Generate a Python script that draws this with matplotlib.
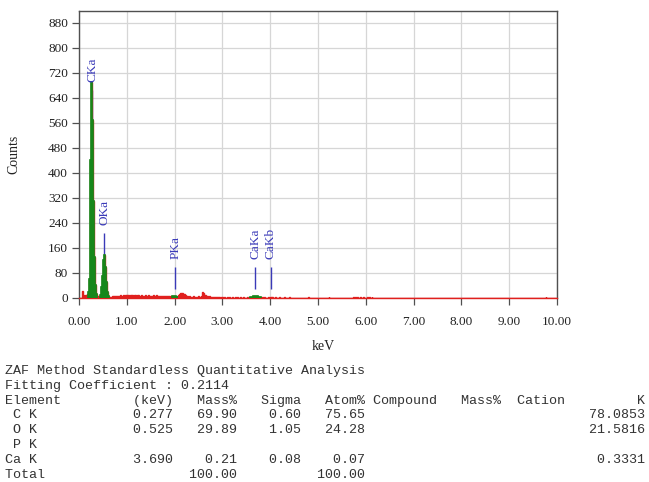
import numpy as np
import matplotlib
matplotlib.use("Agg")
import matplotlib.pyplot as plt

# EDS spectrum counts, 20 eV channels from 0.00 to 10.00 keV
channel_width = 0.02
counts = [
    # 0.00 - 0.48 keV
    0, 0, 0, 22, 9, 6, 8, 10, 12, 20, 60, 300, 440, 690, 570, 310, 130, 40, 12, 6, 5, 6, 10, 35, 70,
    # 0.50 - 0.98 keV
    120, 138, 100, 50, 20, 6, 3, 2, 4, 5, 6, 5, 6, 7, 6, 5, 7, 6, 8, 7, 6, 8, 7, 9, 8,
    # 1.00 - 1.48 keV
    9, 8, 7, 9, 8, 10, 8, 7, 9, 8, 7, 8, 9, 7, 6, 8, 7, 6, 7, 8, 6, 7, 8, 6, 7,
    # 1.50 - 1.98 keV
    6, 7, 8, 6, 7, 6, 8, 7, 6, 5, 7, 6, 5, 6, 7, 5, 6, 5, 6, 5, 4, 5, 6, 5, 5,
    # 2.00 - 2.48 keV
    5, 4, 5, 6, 9, 13, 15, 16, 15, 14, 12, 8, 6, 5, 4, 5, 4, 3, 4, 5, 3, 4, 3, 4, 5,
    # 2.50 - 2.98 keV
    4, 3, 4, 5, 18, 15, 10, 9, 7, 5, 4, 5, 4, 3, 4, 3, 2, 3, 2, 3, 2, 3, 2, 1, 2,
    # 3.00 - 3.48 keV
    2, 1, 2, 1, 1, 2, 1, 2, 1, 1, 2, 1, 1, 2, 1, 4, 1, 1, 2, 1, 1, 1, 2, 1, 1,
    # 3.50 - 3.98 keV
    1, 2, 1, 1, 2, 3, 4, 5, 6, 5, 6, 5, 4, 3, 2, 1, 2, 1, 1, 2, 1, 1, 1, 2, 1,
    # 4.00 - 4.48 keV
    2, 3, 2, 1, 1, 2, 1, 1, 1, 2, 1, 1, 1, 1, 2, 1, 1, 1, 1, 1, 2, 1, 1, 1, 1,
    # 4.50 - 4.98 keV
    1, 1, 1, 1, 1, 1, 1, 1, 1, 1, 1, 1, 1, 1, 1, 3, 1, 1, 1, 1, 1, 1, 1, 1, 1,
    # 5.00 - 5.48 keV
    1, 1, 1, 1, 1, 1, 1, 1, 1, 1, 1, 3, 1, 1, 1, 1, 1, 1, 1, 1, 1, 1, 1, 1, 1,
    # 5.50 - 5.98 keV
    1, 1, 1, 1, 1, 1, 1, 1, 1, 1, 1, 1, 3, 1, 2, 1, 3, 1, 1, 2, 1, 1, 3, 1, 1,
    # 6.00 - 6.48 keV
    1, 2, 1, 3, 1, 1, 2, 1, 1, 1, 1, 1, 1, 1, 1, 1, 1, 1, 1, 1, 1, 1, 1, 1, 1,
    # 6.50 - 9.48 keV
    1, 1, 1, 1, 1, 1, 1, 1, 1, 1, 1, 1, 1, 1, 1, 1, 1, 1, 1, 1, 1, 1, 1, 1, 1,
    1, 1, 1, 1, 1, 1, 1, 1, 1, 1, 1, 1, 1, 1, 1, 1, 1, 1, 1, 1, 1, 1, 1, 1, 1,
    1, 1, 1, 1, 1, 1, 1, 1, 1, 1, 1, 1, 1, 1, 1, 1, 1, 1, 1, 1, 1, 1, 1, 1, 1,
    1, 1, 1, 1, 1, 1, 1, 1, 1, 1, 1, 1, 1, 1, 1, 1, 1, 1, 1, 1, 1, 1, 1, 1, 1,
    1, 1, 1, 1, 1, 1, 1, 1, 1, 1, 1, 1, 1, 1, 1, 1, 1, 1, 1, 1, 1, 1, 1, 1, 1,
    1, 1, 1, 1, 1, 1, 1, 1, 1, 1, 1, 1, 1, 1, 1, 1, 1, 1, 1, 1, 1, 1, 1, 1, 1,
    # 9.50 - 9.98 keV
    1, 1, 1, 1, 1, 1, 1, 1, 1, 1, 1, 1, 1, 3, 1, 1, 1, 1, 1, 1, 1, 1, 1, 1, 1,
]

# energy windows assigned to identified peaks (keV)
peak_windows = [(0.18, 0.38), (0.44, 0.62), (1.94, 2.06), (3.56, 3.80)]

# peak markers
line_names = ["CKa", "OKa", "PKa", "CaKa", "CaKb"]
line_kev = [0.277, 0.525, 2.013, 3.690, 4.012]
line_top = [665, 207, 99, 99, 99]

# quantitative table
table_header = ["Element", "(keV)", "Mass%", "Sigma", "Atom%", "Compound", "Mass%", "Cation", "K"]
elements = [" C K", " O K", " P K", "Ca K"]
kev = ["0.277", "0.525", "", "3.690"]
mass = ["69.90", "29.89", "", "0.21"]
sigma = ["0.60", "1.05", "", "0.08"]
atom = ["75.65", "24.28", "", "0.07"]
k_ratio = ["78.0853", "21.5816", "", "0.3331"]
total_mass = "100.00"
total_atom = "100.00"
fitting_coef = "0.2114"

RED = "#e0201e"
GREEN = "#17871b"
BLUE = "#3a3ab8"

W, H = 649, 482
fig = plt.figure(figsize=(W / 100, H / 100), dpi=100)
ax = fig.add_axes([79 / W, 1 - 298 / H, 478 / W, 287 / H])

counts = np.array(counts, dtype=float)
edges = np.arange(len(counts) + 1) * channel_width

ax.stairs(counts, edges, fill=True, color=RED, zorder=2)
ax.stairs(counts, edges, color=RED, lw=1.0, zorder=2)
for lo, hi in peak_windows:
    i0, i1 = int(round(lo / channel_width)), int(round(hi / channel_width))
    ax.stairs(counts[i0:i1], edges[i0:i1 + 1], fill=True, color=GREEN, zorder=3)
    ax.stairs(counts[i0:i1], edges[i0:i1 + 1], color=GREEN, lw=1.2, zorder=3)

ax.vlines(line_kev, 28, line_top, color=BLUE, lw=1.0, zorder=1)
for name, x, top in zip(line_names, line_kev, line_top):
    ax.annotate(name, (x, top), xytext=(0, 8), textcoords="offset pixels",
                rotation=90, ha="center", va="bottom", color=BLUE,
                fontsize=9.5, family="Liberation Serif")

ax.set_xlim(0, 10)
ax.set_ylim(0, 917)
ax.set_xticks(np.arange(0, 11, 1))
ax.set_xticklabels(["%.2f" % v for v in range(11)])
ax.set_yticks(np.arange(0, 881, 80))
ax.grid(True, color="#d6d6d6", lw=0.9, zorder=0)
ax.set_axisbelow(True)
for s in ax.spines.values():
    s.set_color("#505050")
    s.set_linewidth(1.0)
ax.spines["bottom"].set_color(RED)
ax.tick_params(direction="out", length=5, width=0.9, color="#505050",
               labelsize=9.5, pad=3)
ax.tick_params(axis="x", pad=8)
for lab in ax.get_xticklabels() + ax.get_yticklabels():
    lab.set_family("Liberation Serif")
    lab.set_color("#222222")

fig.text(14 / W, 1 - 154 / H, "Counts", rotation=90, ha="center", va="center",
         fontsize=10, family="Liberation Serif", color="#222222")
fig.text(323 / W, 1 - 346 / H, "keV", ha="center", va="center",
         fontsize=10, family="Liberation Serif", color="#222222")

# fixed-width text report under the spectrum (80 columns)
def row(name, c1, c2, c3, c4, c5):
    return f"{name:<8}{c1:>13}{c2:>8}{c3:>8}{c4:>8}{c5:>35}"

lines = [
    "ZAF Method Standardless Quantitative Analysis",
    f"Fitting Coefficient : {fitting_coef}",
    f"{table_header[0]:<8}{table_header[1]:>13}{table_header[2]:>8}{table_header[3]:>8}"
    f"{table_header[4]:>8} {table_header[5]:<8}{table_header[6]:>8}  {table_header[7]:<6}{table_header[8]:>10}",
]
for i in range(len(elements)):
    if kev[i]:
        lines.append(row(elements[i], kev[i], mass[i], sigma[i], atom[i], k_ratio[i]))
    else:
        lines.append(elements[i])
lines.append(f"{'Total':<8}{'':>13}{total_mass:>8}{'':>8}{total_atom:>8}")

for i, text in enumerate(lines):
    fig.text(5 / W, 1 - (371 + 14.8 * i) / H, text, ha="left", va="center",
             fontsize=9.6, family="Liberation Mono", color="#333333")

fig.savefig("out.png", dpi=100)
